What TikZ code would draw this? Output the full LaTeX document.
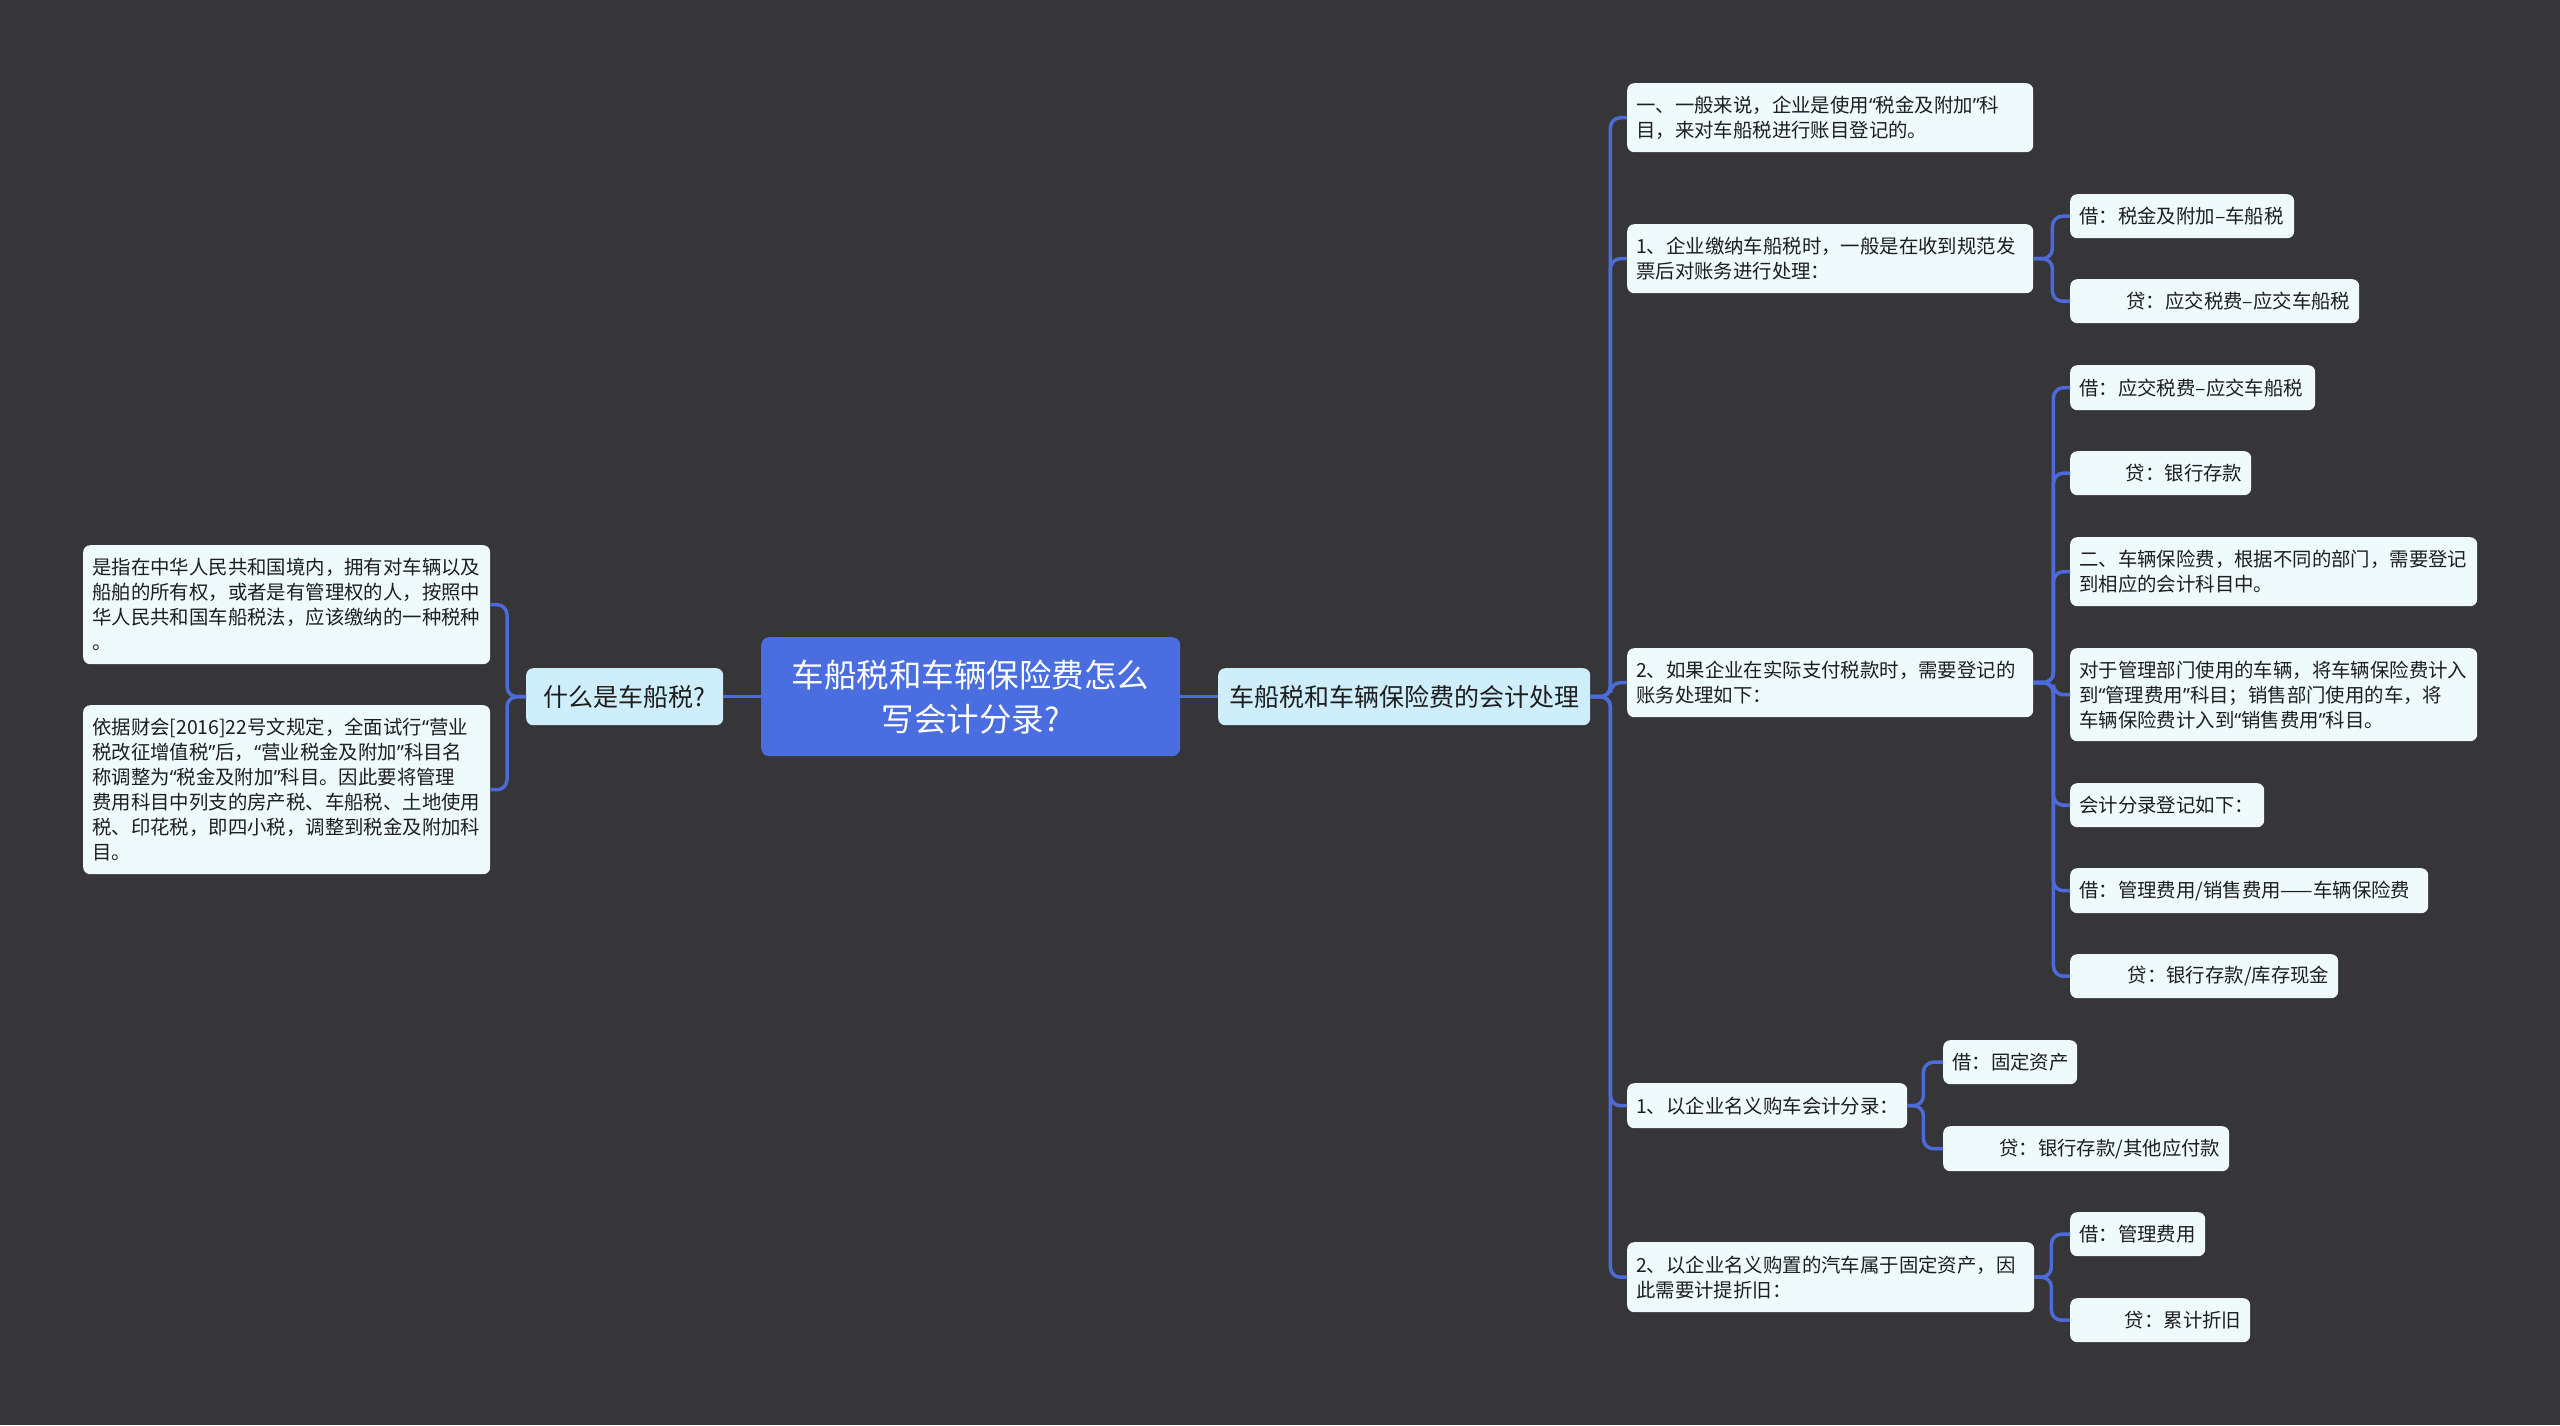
\documentclass[tikz,border=0pt]{standalone}
\usepackage{fontspec}
\setmainfont{Noto Sans CJK SC}
\newfontfamily\qfont{Noto Sans}
\newcommand\qo{{\qfont “}}
\newcommand\qc{{\qfont ”}}
\definecolor{bgc}{HTML}{363538}
\definecolor{leafc}{HTML}{EFFAFD}
\definecolor{midc}{HTML}{CDEEFA}
\definecolor{rootc}{HTML}{4A6EDF}
\definecolor{linec}{HTML}{4D6BD8}
\definecolor{txtc}{HTML}{1E1E1E}
\begin{document}
\begin{tikzpicture}[x=1pt,y=-1pt,
  leaf/.style={fill=leafc, text=txtc, rounded corners=7pt, inner sep=0pt, anchor=north west, align=left, font=\fontsize{19.4}{25}\selectfont},
  leafr/.style={leaf, align=right},
  midn/.style={fill=midc, text=txtc, rounded corners=7pt, inner sep=0pt, anchor=north west, align=center, font=\fontsize{25}{30}\selectfont},
  rootn/.style={fill=rootc, text=white, rounded corners=8pt, inner sep=0pt, anchor=north west, align=center, font=\fontsize{32.5}{44}\selectfont},
  conn/.style={draw=linec, line width=3.5pt, rounded corners=10pt}]
\fill[bgc] (0,0) rectangle (2560,1425);
\useasboundingbox (0,0) rectangle (2560,1425);

% centre
\node[rootn, minimum width=419pt, minimum height=119pt, text width=400pt] (root) at (761,637) {车船税和车辆保险费怎么\\写会计分录?};
\node[midn, minimum width=197pt, minimum height=57pt] (Q) at (526,668) {什么是车船税?};
\node[midn, minimum width=372pt, minimum height=57pt] (M) at (1218,668) {车船税和车辆保险费的会计处理};

% left leaves
\node[leaf, minimum width=407pt, minimum height=119pt, text width=389pt] (L1) at (83,545) {是指在中华人民共和国境内，拥有对车辆以及\\船舶的所有权，或者是有管理权的人，按照中\\华人民共和国车船税法，应该缴纳的一种税种\\。};
\node[leaf, minimum width=407pt, minimum height=169pt, text width=389pt] (L2) at (83,705) {依据财会[2016]22号文规定，全面试行\qo 营业\\税改征增值税\qc 后，\qo 营业税金及附加\qc 科目名\\称调整为\qo 税金及附加\qc 科目。因此要将管理\\费用科目中列支的房产税、车船税、土地使用\\税、印花税，即四小税，调整到税金及附加科\\目。};

% right level 3
\node[leaf, minimum width=406pt, minimum height=69pt, text width=388pt] (A1) at (1627,83) {一、一般来说，企业是使用\qo 税金及附加\qc 科\\目，来对车船税进行账目登记的。};
\node[leaf, minimum width=406pt, minimum height=69pt, text width=388pt] (A2) at (1627,224) {1、企业缴纳车船税时，一般是在收到规范发\\票后对账务进行处理：};
\node[leaf, minimum width=406pt, minimum height=69pt, text width=388pt] (A3) at (1627,648) {2、如果企业在实际支付税款时，需要登记的\\账务处理如下：};
\node[leaf, minimum width=280pt, minimum height=45pt, text width=262pt] (A4) at (1627,1083) {1、以企业名义购车会计分录：};
\node[leaf, minimum width=407pt, minimum height=70pt, text width=389pt] (A5) at (1627,1242) {2、以企业名义购置的汽车属于固定资产，因\\此需要计提折旧：};

% level 4
\node[leaf, minimum width=224pt, minimum height=44pt, text width=206pt] (B1) at (2070,194) {借：税金及附加–车船税};
\node[leafr, minimum width=289pt, minimum height=44pt, text width=271pt] (B2) at (2070,279) {贷：应交税费–应交车船税};

\node[leaf, minimum width=245pt, minimum height=45pt, text width=227pt] (C1) at (2070,365) {借：应交税费–应交车船税};
\node[leafr, minimum width=181pt, minimum height=44pt, text width=163pt] (C2) at (2070,451) {贷：银行存款};
\node[leaf, minimum width=407pt, minimum height=69pt, text width=389pt] (C3) at (2070,537) {二、车辆保险费，根据不同的部门，需要登记\\到相应的会计科目中。};
\node[leaf, minimum width=407pt, minimum height=93pt, text width=389pt] (C4) at (2070,648) {对于管理部门使用的车辆，将车辆保险费计入\\到\qo 管理费用\qc 科目；销售部门使用的车，将\\车辆保险费计入到\qo 销售费用\qc 科目。};
\node[leaf, minimum width=194pt, minimum height=44pt, text width=176pt] (C5) at (2070,783) {会计分录登记如下：};
\node[leaf, minimum width=358pt, minimum height=45pt, text width=340pt] (C6) at (2070,868) {借：管理费用/销售费用——车辆保险费};
\node[leafr, minimum width=268pt, minimum height=44pt, text width=250pt] (C7) at (2070,954) {贷：银行存款/库存现金};

\node[leaf, minimum width=134pt, minimum height=44pt, text width=116pt] (D1) at (1943,1040) {借：固定资产};
\node[leafr, minimum width=286pt, minimum height=45pt, text width=268pt] (D2) at (1943,1126) {贷：银行存款/其他应付款};

\node[leaf, minimum width=135pt, minimum height=44pt, text width=117pt] (E1) at (2070,1212) {借：管理费用};
\node[leafr, minimum width=180pt, minimum height=44pt, text width=162pt] (E2) at (2070,1298) {贷：累计折旧};

% connectors
\draw[conn] (root.west) -- (Q.east);
\draw[conn] (root.east) -- (M.west);
\foreach \c in {L1,L2} \draw[conn] (Q.west) -- ++(-19,0) |- (\c.east);
\foreach \c in {A1,A2,A3,A4,A5} \draw[conn] (M.east) -- ++(20,0) |- (\c.west);
\foreach \c in {B1,B2} \draw[conn] (A2.east) -- ++(19,0) |- (\c.west);
\foreach \c in {C1,C2,C3,C4,C5,C6,C7} \draw[conn] (A3.east) -- ++(20,0) |- (\c.west);
\foreach \c in {D1,D2} \draw[conn] (A4.east) -- ++(16,0) |- (\c.west);
\foreach \c in {E1,E2} \draw[conn] (A5.east) -- ++(17,0) |- (\c.west);
\end{tikzpicture}
\end{document}
